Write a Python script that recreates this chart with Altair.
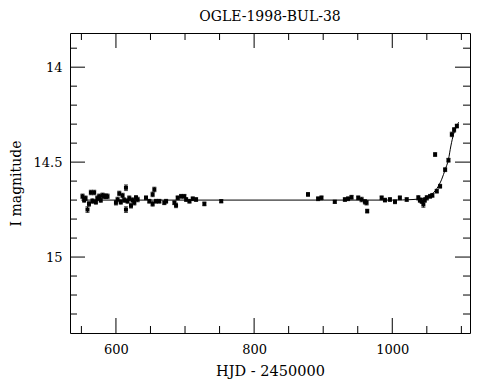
import altair as alt
import pandas as pd

# Observations: HJD-2450000, I magnitude, error
hjd = [551.6, 554, 556, 558.8, 561, 563.7, 566, 568.5, 571, 573, 575.8, 578, 580.6, 583, 585.5, 587.8,
       600, 602.4, 604.8, 607, 609.6, 612, 614.5, 614.5, 616.8, 619.3, 621.8, 624, 626.6, 629, 631.4,
       643.5, 648.3, 653.1, 655.6, 653.1, 658, 662.8, 670, 672.6, 684.6, 687, 689.4, 694.3, 699, 701.6,
       706.4, 711.2, 716, 728, 752.4,
       878, 892.6, 897.5, 916.8, 931.4, 936, 941, 950.7, 955.6, 960.4, 963.7, 962.8, 984.6, 989.4,
       996.6, 1003.9, 1011, 1020.9, 1037.7, 1040, 1042.7, 1045, 1047, 1050, 1054.7, 1058, 1062, 1064.4,
       1069.2, 1076.5, 1081.3, 1086.2, 1089.5, 1093.5]
mag = [14.68, 14.70, 14.69, 14.75, 14.72, 14.66, 14.705, 14.66, 14.71, 14.69, 14.68, 14.70, 14.675, 14.68, 14.68, 14.68,
       14.714, 14.697, 14.665, 14.71, 14.676, 14.70, 14.635, 14.75, 14.705, 14.69, 14.73, 14.70, 14.714, 14.688, 14.697,
       14.688, 14.706, 14.67, 14.644, 14.72, 14.706, 14.706, 14.714, 14.706, 14.714, 14.728, 14.688, 14.68, 14.68, 14.697,
       14.706, 14.693, 14.697, 14.72, 14.706,
       14.67, 14.693, 14.688, 14.709, 14.697, 14.693, 14.685, 14.688, 14.697, 14.709, 14.758, 14.714, 14.688, 14.70,
       14.697, 14.709, 14.688, 14.697, 14.688, 14.70, 14.706, 14.723, 14.70, 14.688, 14.68, 14.675, 14.46, 14.653,
       14.627, 14.54, 14.49, 14.354, 14.33, 14.31]
err = [0.012, 0.012, 0.012, 0.015, 0.012, 0.012, 0.012, 0.012, 0.012, 0.012, 0.012, 0.012, 0.012, 0.012, 0.012, 0.012,
       0.012, 0.012, 0.012, 0.012, 0.012, 0.012, 0.015, 0.015, 0.012, 0.012, 0.012, 0.012, 0.012, 0.012, 0.012,
       0.01, 0.01, 0.012, 0.012, 0.012, 0.01, 0.01, 0.01, 0.01, 0.01, 0.012, 0.01, 0.01, 0.01, 0.01,
       0.01, 0.01, 0.01, 0.01, 0.008,
       0.01, 0.01, 0.01, 0.008, 0.01, 0.01, 0.01, 0.01, 0.012, 0.012, 0.01, 0.012, 0.01, 0.01,
       0.01, 0.01, 0.01, 0.01, 0.012, 0.012, 0.012, 0.015, 0.012, 0.012, 0.01, 0.01, 0.01, 0.01,
       0.01, 0.01, 0.01, 0.012, 0.012, 0.01]

# Model curve
model_hjd = [550, 700, 900, 1000, 1030, 1045, 1054.7, 1064.4, 1071.6, 1076.5, 1081.3, 1084.8, 1088.6, 1093.5, 1096]
model_mag = [14.70, 14.70, 14.70, 14.70, 14.697, 14.69, 14.675, 14.64, 14.59, 14.54, 14.486, 14.415, 14.354, 14.31, 14.29]

x_major = [600, 800, 1000]
x_minor = [550, 650, 700, 750, 850, 900, 950, 1050, 1100]
y_major = [14.0, 14.5, 15.0]
y_minor = [13.9, 14.1, 14.2, 14.3, 14.4, 14.6, 14.7, 14.8, 14.9, 15.1, 15.2, 15.3]

W, H = 400, 300
FONT = "DejaVu Serif"

obs = pd.DataFrame({"hjd": hjd, "mag": mag, "err": err})
obs["lo"] = obs["mag"] - obs["err"]
obs["hi"] = obs["mag"] + obs["err"]
model = pd.DataFrame({"hjd": model_hjd, "mag": model_mag})

xs = alt.Scale(domain=[533.5, 1112.5], nice=False, zero=False)
ys = alt.Scale(domain=[13.82, 15.40], reverse=True, nice=False, zero=False)

xaxis = alt.Axis(values=x_major, format="d", ticks=False, domain=False, grid=False,
                 labelFont=FONT, labelFontSize=13, labelColor="black", labelPadding=10,
                 titleFont=FONT, titleFontSize=14.5, titleFontWeight="normal", titleColor="black",
                 titlePadding=8)
yaxis = alt.Axis(values=y_major, format="~g", ticks=False, domain=False, grid=False,
                 labelFont=FONT, labelFontSize=13, labelColor="black", labelPadding=8,
                 titleFont=FONT, titleFontSize=14, titleFontWeight="normal", titleColor="black",
                 titlePadding=10)

base_line = alt.Chart(model).mark_line(color="black", strokeWidth=1, interpolate="monotone").encode(
    x=alt.X("hjd:Q", scale=xs, axis=xaxis, title="HJD - 2450000"),
    y=alt.Y("mag:Q", scale=ys, axis=yaxis, title="I magnitude"),
)

bars = alt.Chart(obs).mark_rule(color="black", strokeWidth=1).encode(
    x="hjd:Q", y="lo:Q", y2="hi:Q")
caps_lo = alt.Chart(obs).mark_tick(color="black", orient="horizontal", size=4, thickness=1).encode(
    x="hjd:Q", y="lo:Q")
caps_hi = alt.Chart(obs).mark_tick(color="black", orient="horizontal", size=4, thickness=1).encode(
    x="hjd:Q", y="hi:Q")
pts = alt.Chart(obs).mark_square(color="black", size=16, opacity=1).encode(x="hjd:Q", y="mag:Q")


def xticks(vals, length):
    d = pd.DataFrame({"v": vals})
    bottom = alt.Chart(d).mark_rule(color="black", strokeWidth=1).encode(
        x="v:Q", y=alt.value(H), y2=alt.value(H - length))
    top = alt.Chart(d).mark_rule(color="black", strokeWidth=1).encode(
        x="v:Q", y=alt.value(0), y2=alt.value(length))
    return [bottom, top]


def yticks(vals, length):
    d = pd.DataFrame({"v": vals})
    left = alt.Chart(d).mark_rule(color="black", strokeWidth=1).encode(
        y="v:Q", x=alt.value(0), x2=alt.value(length))
    right = alt.Chart(d).mark_rule(color="black", strokeWidth=1).encode(
        y="v:Q", x=alt.value(W), x2=alt.value(W - length))
    return [left, right]


layers = [base_line, bars, caps_lo, caps_hi, pts]
layers += xticks(x_major, 15) + xticks(x_minor, 7) + yticks(y_major, 15) + yticks(y_minor, 7)

chart = alt.layer(*layers).properties(
    width=W, height=H,
    title=alt.TitleParams("OGLE-1998-BUL-38", font=FONT, fontSize=14, fontWeight="normal",
                          color="black", offset=9, anchor="middle"),
    autosize=alt.AutoSizeParams(type="none"),
    padding={"left": 62, "top": 25, "right": 12, "bottom": 47},
    background="white",
).configure_view(stroke="black", strokeWidth=1)

chart.save("out.html", embed_options={"renderer": "svg", "actions": False})
